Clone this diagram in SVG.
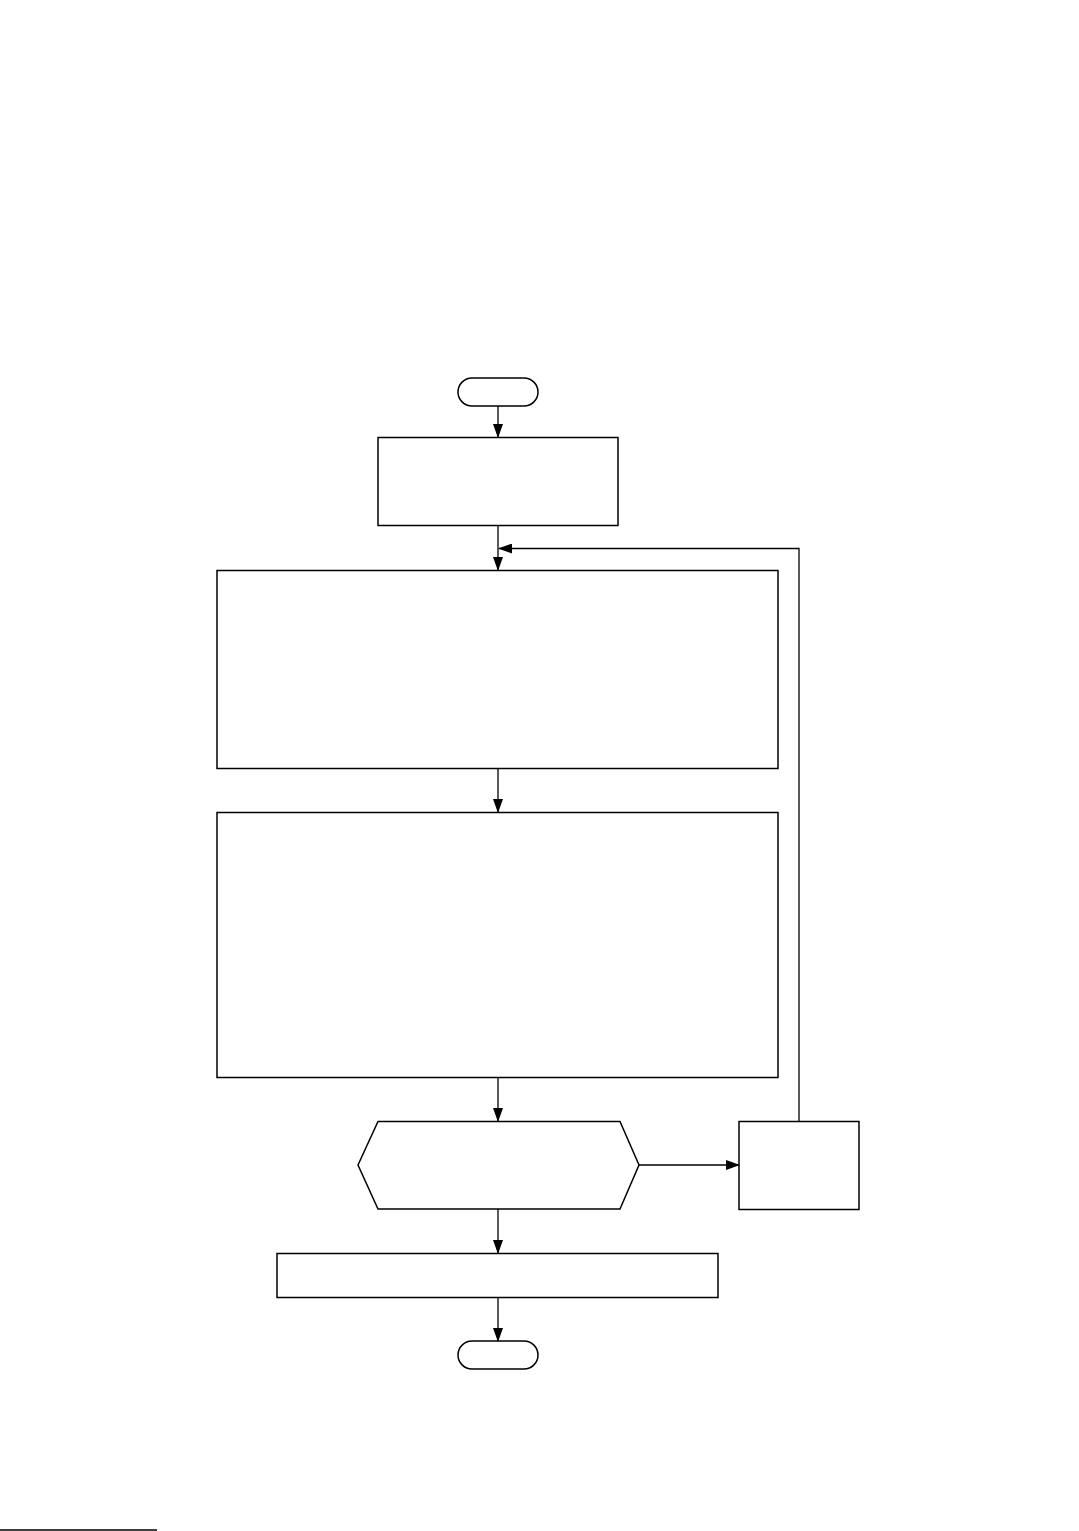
<svg xmlns="http://www.w3.org/2000/svg" width="1079" height="1531" viewBox="0 0 1079 1531">
<style>
.n{fill:#fff;stroke:#000;stroke-width:1.5}
.c{fill:none;stroke:#000;stroke-width:1.3}
</style>
<defs>
<marker id="ah" markerWidth="14" markerHeight="10" refX="13" refY="5" orient="auto" markerUnits="userSpaceOnUse">
<path d="M0,0 L14,5 L0,10 Z" fill="#000"/>
</marker>
</defs>
<rect x="0" y="0" width="1079" height="1531" fill="#fff"/>
<g id="start"><rect class="n" x="458" y="378" width="80" height="28" rx="14"/></g>
<g id="box1"><rect class="n" x="378" y="437.5" width="240" height="88"/></g>
<g id="box2"><rect class="n" x="217" y="570.5" width="561" height="198"/></g>
<g id="box3"><rect class="n" x="217" y="812.5" width="561" height="265"/></g>
<g id="decision"><polygon class="n" points="358,1165 378,1121.5 620,1121.5 639,1165 620,1209 378,1209"/></g>
<g id="side"><rect class="n" x="739" y="1121.5" width="120" height="88"/></g>
<g id="box4"><rect class="n" x="277" y="1253.5" width="441" height="44"/></g>
<g id="end"><rect class="n" x="458" y="1341" width="80" height="28" rx="14"/></g>
<g id="connectors">
<line class="c" x1="498" y1="406" x2="498" y2="437" marker-end="url(#ah)"/>
<line class="c" x1="498" y1="525.5" x2="498" y2="570" marker-end="url(#ah)"/>
<polyline class="c" points="799,1121.5 799,548.5 499,548.5" marker-end="url(#ah)"/>
<line class="c" x1="498" y1="768.5" x2="498" y2="812" marker-end="url(#ah)"/>
<line class="c" x1="498" y1="1077.5" x2="498" y2="1121" marker-end="url(#ah)"/>
<line class="c" x1="639" y1="1165" x2="739" y2="1165" marker-end="url(#ah)"/>
<line class="c" x1="498" y1="1209" x2="498" y2="1253" marker-end="url(#ah)"/>
<line class="c" x1="498" y1="1297.5" x2="498" y2="1341" marker-end="url(#ah)"/>
</g>
<line x1="0" y1="1530" x2="157" y2="1530" stroke="#000" stroke-width="1.5"/>
</svg>
